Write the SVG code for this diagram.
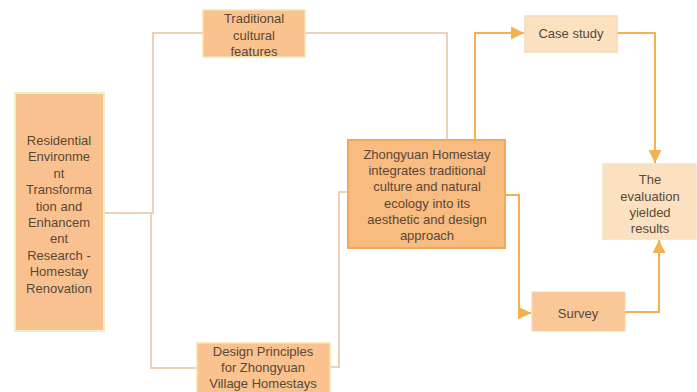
<svg xmlns="http://www.w3.org/2000/svg" width="697" height="392" viewBox="0 0 697 392">
<defs>
<marker id="arr" viewBox="0 0 10 10" refX="10" refY="5" markerWidth="6.5" markerHeight="6.5" markerUnits="strokeWidth" orient="auto">
<path d="M0,0 L10,5 L0,10 z" fill="#f4b152"/>
</marker>
<style>
text{font-family:"Liberation Sans",Arial,sans-serif;font-size:13px;fill:#594838;text-anchor:middle}
.tan{fill:none;stroke:#ecd2b8;stroke-width:2}
.org{fill:none;stroke:#f4b152;stroke-width:2}
</style>
</defs>
<rect width="697" height="392" fill="#ffffff"/>
<g id="connectors">
<polyline class="tan" points="104,213 153,213 153,33 203,33"/>
<polyline class="tan" points="153,213 151,213 151,368 197,368"/>
<polyline class="tan" points="305,33 447,33 447,140"/>
<polyline class="tan" points="330,367 339,367 339,192 348,192"/>
<polyline class="org" points="475,140 475,33 524,33" marker-end="url(#arr)"/>
<polyline class="org" points="617,33 655,33 655,163" marker-end="url(#arr)"/>
<polyline class="org" points="505,195 519,195 519,313 531,313" marker-end="url(#arr)"/>
<polyline class="org" points="625,312 659,312 659,240" marker-end="url(#arr)"/>
</g>
<g id="n-residential">
<rect x="15" y="93" width="89" height="238" fill="#f9c18f" stroke="#e9f1c6" stroke-width="2"/>
<text x="59" y="145">Residential</text>
<text x="59" y="161">Environme</text>
<text x="59" y="178">nt</text>
<text x="59" y="194">Transforma</text>
<text x="59" y="211">tion and</text>
<text x="59" y="227">Enhancem</text>
<text x="59" y="243">ent</text>
<text x="59" y="260">Research -</text>
<text x="59" y="276">Homestay</text>
<text x="59" y="293">Renovation</text>
</g>
<g id="n-traditional">
<rect x="203" y="10" width="102" height="47" fill="#f9c28e" stroke="#f6e3aa" stroke-width="1.5"/>
<text x="254" y="23">Traditional</text>
<text x="254" y="40">cultural</text>
<text x="254" y="56">features</text>
</g>
<g id="n-design">
<rect x="197" y="343" width="133" height="56" fill="#f9c28e" stroke="#f6e3aa" stroke-width="1.5"/>
<text x="263" y="356">Design Principles</text>
<text x="263" y="372">for Zhongyuan</text>
<text x="263" y="388">Village Homestays</text>
</g>
<g id="n-zhongyuan">
<rect x="348" y="140" width="157" height="108" fill="#f8bb80" stroke="#f2a85c" stroke-width="2"/>
<text x="427" y="159">Zhongyuan Homestay</text>
<text x="427" y="175">integrates traditional</text>
<text x="427" y="191">culture and natural</text>
<text x="427" y="208">ecology into its</text>
<text x="427" y="224">aesthetic and design</text>
<text x="427" y="240">approach</text>
</g>
<g id="n-case">
<rect x="525" y="16" width="92" height="36" fill="#fbe1bf" stroke="#f2dab6" stroke-width="1.5"/>
<text x="571" y="38">Case study</text>
</g>
<g id="n-evaluation">
<rect x="603" y="164" width="93" height="75" fill="#fbe1c0" stroke="#f2e2c2" stroke-width="1.5"/>
<text x="650" y="184">The</text>
<text x="650" y="201">evaluation</text>
<text x="650" y="217">yielded</text>
<text x="650" y="233">results</text>
</g>
<g id="n-survey">
<rect x="532" y="292" width="93" height="39" fill="#f9c898" stroke="#f8d3ac" stroke-width="1"/>
<text x="578" y="318">Survey</text>
</g>
</svg>
